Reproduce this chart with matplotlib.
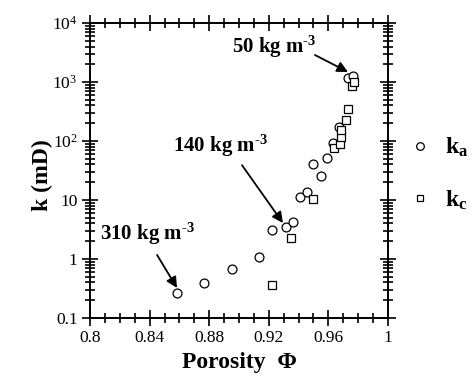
import matplotlib
matplotlib.use("Agg")
import matplotlib.pyplot as plt
import matplotlib.ticker as mticker
from matplotlib.lines import Line2D

plt.rcParams['font.family'] = ['Liberation Serif', 'DejaVu Serif']
plt.rcParams['mathtext.fontset'] = 'custom'
plt.rcParams['mathtext.rm'] = 'Liberation Serif'
plt.rcParams['mathtext.bf'] = 'Liberation Serif:bold'
plt.rcParams['mathtext.it'] = 'Liberation Serif:italic'

# k_a data
phi_a = [0.8586, 0.8767, 0.8953, 0.9134, 0.9223, 0.9315, 0.9362, 0.9410, 0.9454,
         0.9499, 0.9548, 0.9593, 0.9633, 0.9671, 0.9729, 0.9767]
k_a = [0.26, 0.39, 0.68, 1.08, 3.06, 3.5, 4.2, 11.4, 13.8,
       40.7, 25.9, 51, 93, 174, 1150, 1260]
# k_c data
phi_c = [0.9223, 0.9349, 0.9499, 0.9640, 0.9678, 0.9683, 0.9687, 0.9718, 0.9729,
         0.9756, 0.9774]
k_c = [0.36, 2.27, 10.4, 77, 89, 117, 154, 228, 347, 850, 1010]

xticks = [0.8, 0.84, 0.88, 0.92, 0.96, 1.0]
xticklabels = ['0.8', '0.84', '0.88', '0.92', '0.96', '1']
yticks = [0.1, 1, 10, 100, 1000, 10000]
yticklabels = ['0.1', '1', '10', r'$10^2$', r'$10^3$', r'$10^4$']

# annotations: label, text anchor (left, baseline), arrow start, arrow end
ann_labels = ['50 kg m', '140 kg m', '310 kg m']
ann_text_xy = [(0.8953, 3100), (0.8557, 65), (0.8067, 2.1)]
ann_from = [(0.951, 2870), (0.902, 39), (0.845, 1.17)]
ann_to = [(0.9732, 1480), (0.9295, 4.07), (0.8584, 0.322)]

fig = plt.figure(figsize=(4.75, 3.84), dpi=100)
ax = fig.add_axes([0.1895, 0.172, 0.6273, 0.768])

ax.plot(phi_a, k_a, linestyle='none', marker='o', markersize=6.4,
        markerfacecolor='white', markeredgecolor='black', markeredgewidth=0.9)
ax.plot(phi_c, k_c, linestyle='none', marker='s', markersize=5.8,
        markerfacecolor='white', markeredgecolor='black', markeredgewidth=0.9)

ax.set_yscale('log')
ax.set_xlim(0.8, 1.0)
ax.set_ylim(0.1, 1e4)
ax.set_xticks(xticks)
ax.set_xticklabels(xticklabels)
ax.set_yticks(yticks)
ax.set_yticklabels(yticklabels)
ax.xaxis.set_minor_locator(mticker.MultipleLocator(0.01))
ax.yaxis.set_minor_locator(mticker.LogLocator(base=10, subs=range(2, 10), numticks=20))
ax.yaxis.set_minor_formatter(mticker.NullFormatter())

ax.tick_params(which='both', direction='inout', top=True, right=True, width=1.2,
               labelsize=12.5, pad=3)
ax.tick_params(which='major', length=12)
ax.tick_params(which='minor', length=7)
for s in ax.spines.values():
    s.set_linewidth(1.4)

ax.set_xlabel('Porosity  Φ', fontsize=17, fontweight='bold', labelpad=4)
ax.set_ylabel('k (mD)', fontsize=17, fontweight='bold', labelpad=12)
ax.yaxis.set_label_coords(-0.125, 0.485)

sup = '$^{\\mathbf{\u2010 3}}$'
for lab, txy, a0, a1 in zip(ann_labels, ann_text_xy, ann_from, ann_to):
    ax.text(txy[0], txy[1], lab + sup,
            fontsize=15, fontweight='bold', ha='left', va='baseline')
    ax.annotate('', xy=a1, xytext=a0,
                arrowprops=dict(arrowstyle='-|>', color='black', lw=1.3,
                                mutation_scale=16, shrinkA=0, shrinkB=0))

handles = [Line2D([], [], linestyle='none', marker='o', markersize=5.5,
                  markerfacecolor='white', markeredgecolor='black', markeredgewidth=0.9),
           Line2D([], [], linestyle='none', marker='s', markersize=5.0,
                  markerfacecolor='white', markeredgecolor='black', markeredgewidth=0.9)]
fig.legend(handles, [r'$\mathbf{k_a}$', r'$\mathbf{k_c}$'], loc='upper left',
           bbox_to_anchor=(0.86, 0.646), frameon=False, fontsize=17,
           handlelength=1.0, handletextpad=0.55, labelspacing=1.25,
           borderpad=0, borderaxespad=0)

fig.savefig('out.png', dpi=100)
